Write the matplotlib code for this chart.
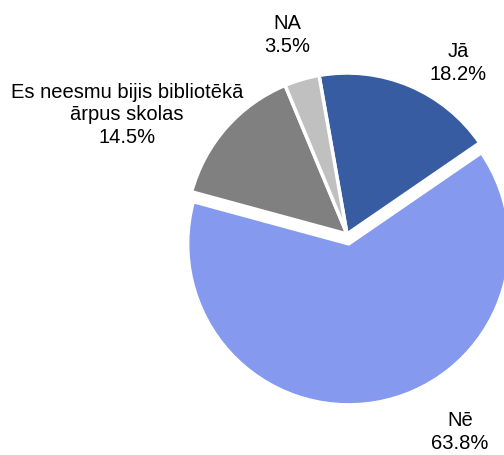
import matplotlib
matplotlib.use("Agg")
import matplotlib.pyplot as plt

plt.rcParams['font.family'] = ['Liberation Sans', 'DejaVu Sans']

# Data
labels = ['Jā', 'Nē', 'Es neesmu bijis bibliotēkā\nārpus skolas', 'NA']
shares = [18.2, 63.8, 14.5, 3.5]
colors = ['#375CA1', '#8599EE', '#808080', '#C0C0C0']

# label positions in pixels (x, y from top)
label_pos = [(458, 63), (460, 432), (127, 115), (287, 35)]

W, H = 504, 455
fig = plt.figure(figsize=(W / 100, H / 100), dpi=100)
ax = fig.add_axes([0, 0, 1, 1])

ax.pie(shares, colors=colors, startangle=100, counterclock=False,
       center=(347, 221), radius=161, explode=[0, 10, 0, 0],
       wedgeprops=dict(edgecolor='white', linewidth=2.5))

ax.set_xlim(0, W)
ax.set_ylim(0, H)
ax.set_aspect('equal')
ax.axis('off')

for lab, val, (px, py) in zip(labels, shares, label_pos):
    ax.text(px, H - py, f'{lab}\n{val:.1f}%', ha='center', va='center',
            fontsize=14.5, linespacing=1.25, color='black')

fig.savefig('out.png', dpi=100)
